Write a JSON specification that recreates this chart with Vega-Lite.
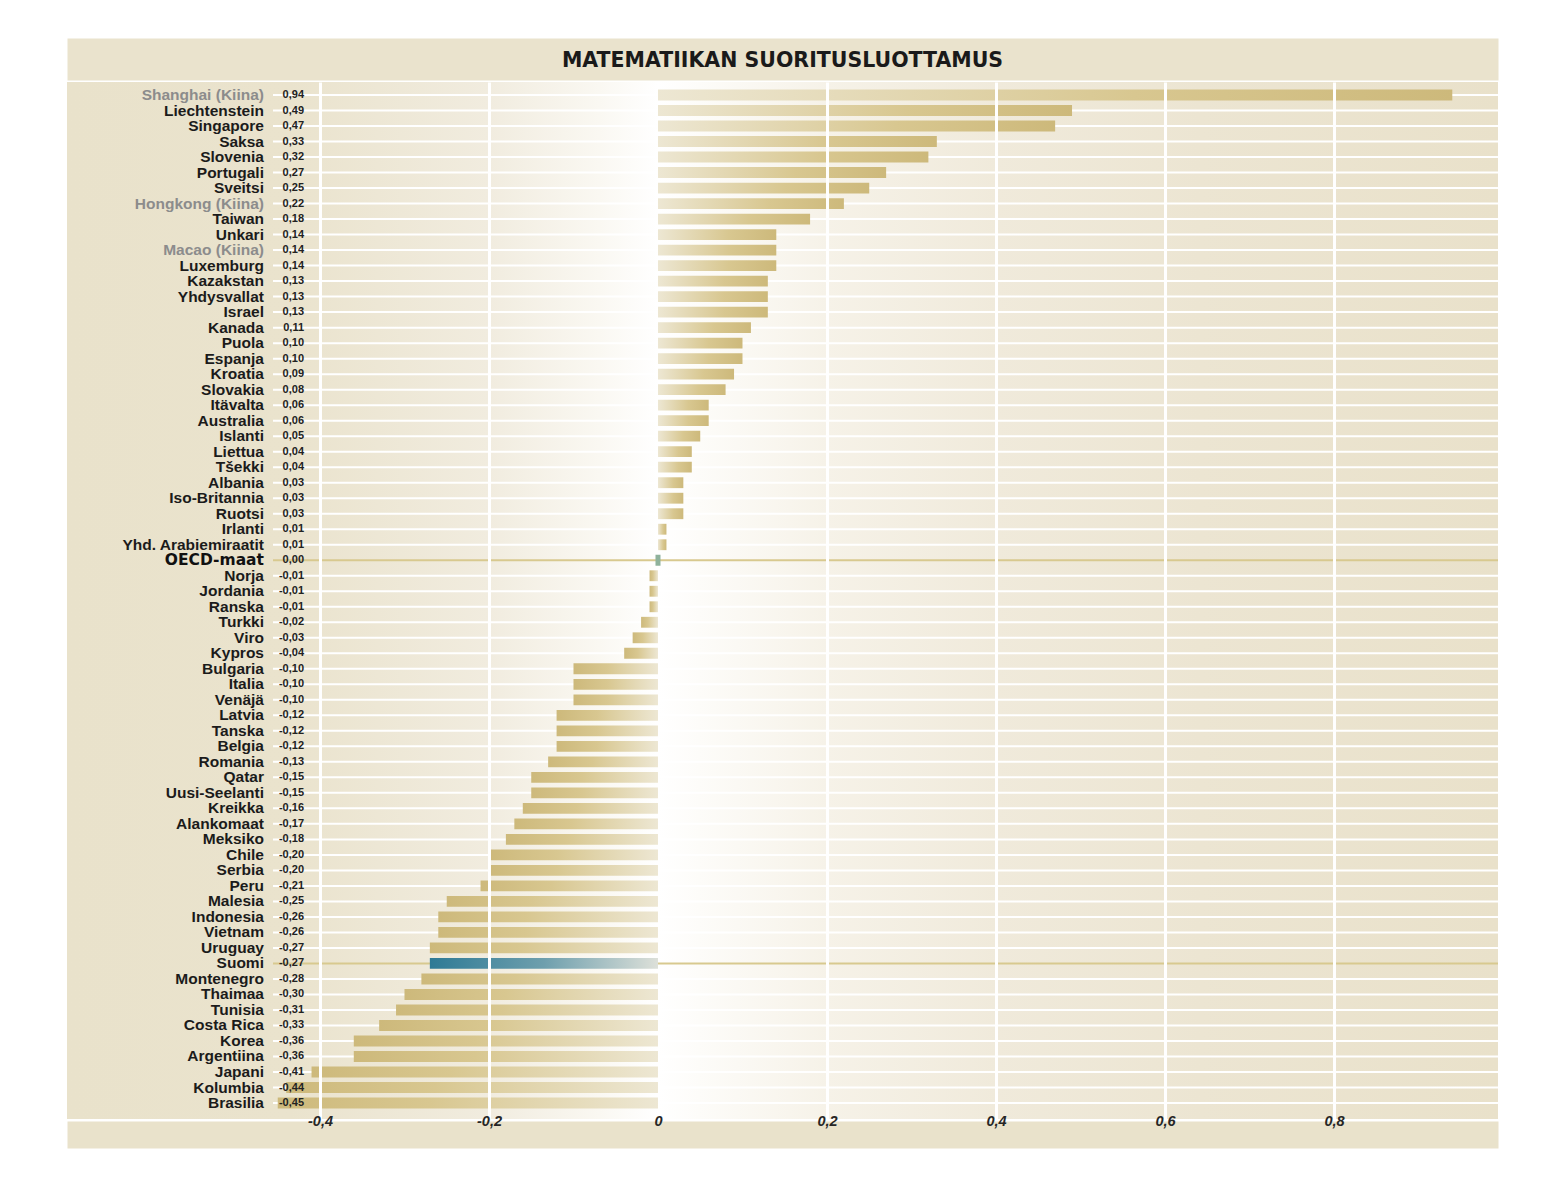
{
  "$schema": "https://vega.github.io/schema/vega-lite/v6.json",
  "width": 1431,
  "height": 1037,
  "autosize": {"type": "none"},
  "padding": {"left": 67, "top": 82, "right": 61, "bottom": 73},
  "background": "white",
  "title": {
    "text": "MATEMATIIKAN SUORITUSLUOTTAMUS",
    "anchor": "middle",
    "frame": "group",
    "font": "DejaVu Sans",
    "fontSize": 20.5,
    "fontWeight": "bold",
    "color": "#1a1a1a",
    "baseline": "middle",
    "offset": -22
  },
  "config": {
    "view": {"stroke": null},
    "locale": {
      "number": {
        "decimal": ",",
        "thousands": "\u00a0",
        "grouping": [3],
        "currency": ["", "\u00a0€"],
        "minus": "-"
      }
    }
  },
  "data": {
    "values": [
      {"maa": "Shanghai (Kiina)", "arvo": 0.94},
      {"maa": "Liechtenstein", "arvo": 0.49},
      {"maa": "Singapore", "arvo": 0.47},
      {"maa": "Saksa", "arvo": 0.33},
      {"maa": "Slovenia", "arvo": 0.32},
      {"maa": "Portugali", "arvo": 0.27},
      {"maa": "Sveitsi", "arvo": 0.25},
      {"maa": "Hongkong (Kiina)", "arvo": 0.22},
      {"maa": "Taiwan", "arvo": 0.18},
      {"maa": "Unkari", "arvo": 0.14},
      {"maa": "Macao (Kiina)", "arvo": 0.14},
      {"maa": "Luxemburg", "arvo": 0.14},
      {"maa": "Kazakstan", "arvo": 0.13},
      {"maa": "Yhdysvallat", "arvo": 0.13},
      {"maa": "Israel", "arvo": 0.13},
      {"maa": "Kanada", "arvo": 0.11},
      {"maa": "Puola", "arvo": 0.10},
      {"maa": "Espanja", "arvo": 0.10},
      {"maa": "Kroatia", "arvo": 0.09},
      {"maa": "Slovakia", "arvo": 0.08},
      {"maa": "Itävalta", "arvo": 0.06},
      {"maa": "Australia", "arvo": 0.06},
      {"maa": "Islanti", "arvo": 0.05},
      {"maa": "Liettua", "arvo": 0.04},
      {"maa": "Tšekki", "arvo": 0.04},
      {"maa": "Albania", "arvo": 0.03},
      {"maa": "Iso-Britannia", "arvo": 0.03},
      {"maa": "Ruotsi", "arvo": 0.03},
      {"maa": "Irlanti", "arvo": 0.01},
      {"maa": "Yhd. Arabiemiraatit", "arvo": 0.01},
      {"maa": "OECD-maat", "arvo": 0.00},
      {"maa": "Norja", "arvo": -0.01},
      {"maa": "Jordania", "arvo": -0.01},
      {"maa": "Ranska", "arvo": -0.01},
      {"maa": "Turkki", "arvo": -0.02},
      {"maa": "Viro", "arvo": -0.03},
      {"maa": "Kypros", "arvo": -0.04},
      {"maa": "Bulgaria", "arvo": -0.10},
      {"maa": "Italia", "arvo": -0.10},
      {"maa": "Venäjä", "arvo": -0.10},
      {"maa": "Latvia", "arvo": -0.12},
      {"maa": "Tanska", "arvo": -0.12},
      {"maa": "Belgia", "arvo": -0.12},
      {"maa": "Romania", "arvo": -0.13},
      {"maa": "Qatar", "arvo": -0.15},
      {"maa": "Uusi-Seelanti", "arvo": -0.15},
      {"maa": "Kreikka", "arvo": -0.16},
      {"maa": "Alankomaat", "arvo": -0.17},
      {"maa": "Meksiko", "arvo": -0.18},
      {"maa": "Chile", "arvo": -0.20},
      {"maa": "Serbia", "arvo": -0.20},
      {"maa": "Peru", "arvo": -0.21},
      {"maa": "Malesia", "arvo": -0.25},
      {"maa": "Indonesia", "arvo": -0.26},
      {"maa": "Vietnam", "arvo": -0.26},
      {"maa": "Uruguay", "arvo": -0.27},
      {"maa": "Suomi", "arvo": -0.27},
      {"maa": "Montenegro", "arvo": -0.28},
      {"maa": "Thaimaa", "arvo": -0.30},
      {"maa": "Tunisia", "arvo": -0.31},
      {"maa": "Costa Rica", "arvo": -0.33},
      {"maa": "Korea", "arvo": -0.36},
      {"maa": "Argentiina", "arvo": -0.36},
      {"maa": "Japani", "arvo": -0.41},
      {"maa": "Kolumbia", "arvo": -0.44},
      {"maa": "Brasilia", "arvo": -0.45}
    ]
  },
  "resolve": {"axis": {"x": "independent"}},
  "layer": [
    {
      "data": {"values": [{}]},
      "mark": {
        "type": "rect",
        "fill": {
          "gradient": "linear",
          "x1": 0, "y1": 0, "x2": 1, "y2": 0,
          "stops": [
            {"offset": 0, "color": "#e9e2cb"},
            {"offset": 0.156, "color": "#eae3cd"},
            {"offset": 0.295, "color": "#f1ecdf"},
            {"offset": 0.372, "color": "#faf8f2"},
            {"offset": 0.413, "color": "#ffffff"},
            {"offset": 0.442, "color": "#fdfcf9"},
            {"offset": 0.531, "color": "#f6f2e8"},
            {"offset": 0.649, "color": "#f0eadb"},
            {"offset": 0.792, "color": "#ece5d2"},
            {"offset": 1, "color": "#e9e1ca"}
          ]
        }
      },
      "encoding": {
        "x": {"datum": -0.6994, "type": "quantitative", "axis": null},
        "x2": {"datum": 0.9941}
      }
    },
    {
      "mark": {"type": "rule", "strokeWidth": 2},
      "encoding": {
        "y": {
          "field": "maa",
          "type": "nominal",
          "sort": null,
          "scale": {"type": "band", "paddingInner": 0.3, "paddingOuter": 0.585, "align": 0.418},
          "axis": null
        },
        "x": {
          "datum": -0.4556,
          "type": "quantitative",
          "axis": {
            "orient": "top",
            "domain": true,
            "domainColor": "#eae3cd",
            "domainWidth": 42,
            "offset": 23,
            "ticks": false,
            "labels": false,
            "grid": false,
            "title": null,
            "zindex": 0
          }
        },
        "x2": {"datum": 0.9941},
        "color": {
          "condition": {"test": "datum.maa === 'OECD-maat' || datum.maa === 'Suomi'", "value": "#d8c98f"},
          "value": "#ffffff"
        }
      }
    },
    {
      "transform": [{"filter": "datum.arvo > 0"}],
      "mark": {
        "type": "bar",
        "fill": {
          "gradient": "linear",
          "x1": 0, "y1": 0, "x2": 1, "y2": 0,
          "stops": [
            {"offset": 0, "color": "#ede7d3"},
            {"offset": 0.6, "color": "#d8c790"},
            {"offset": 1, "color": "#cdb97b"}
          ]
        }
      },
      "encoding": {
        "y": {"field": "maa", "type": "nominal", "sort": null, "axis": null},
        "x": {
          "field": "arvo",
          "type": "quantitative",
          "scale": {"domain": [-0.6994, 0.9941], "nice": false, "zero": false},
          "axis": {
            "orient": "bottom",
            "values": [-0.4, -0.2, 0, 0.2, 0.4, 0.6, 0.8],
            "format": ".1f",
            "labelExpr": "datum.value === 0 ? '0' : datum.label",
            "domain": false,
            "ticks": false,
            "grid": true,
            "gridColor": "#ffffff",
            "gridWidth": 3,
            "gridOpacity": {"condition": {"test": "datum.value === 0", "value": 0}, "value": 1},
            "labelFont": "Liberation Sans",
            "labelFontWeight": "bold",
            "labelFontStyle": "italic",
            "labelFontSize": 14.5,
            "labelColor": "#262626",
            "labelBaseline": "middle",
            "labelPadding": 2,
            "labelFlush": false,
            "labelOverlap": false,
            "title": null,
            "zindex": 1
          }
        },
        "x2": {"datum": 0}
      }
    },
    {
      "transform": [{"filter": "datum.arvo < 0 && datum.maa !== 'Suomi'"}],
      "mark": {
        "type": "bar",
        "fill": {
          "gradient": "linear",
          "x1": 0, "y1": 0, "x2": 1, "y2": 0,
          "stops": [
            {"offset": 0, "color": "#cdb97b"},
            {"offset": 0.4, "color": "#d8c790"},
            {"offset": 1, "color": "#ede7d3"}
          ]
        }
      },
      "encoding": {
        "y": {"field": "maa", "type": "nominal", "sort": null, "axis": null},
        "x": {
          "field": "arvo",
          "type": "quantitative",
          "axis": {
            "orient": "bottom",
            "domain": true,
            "domainColor": "#e9e2cb",
            "domainWidth": 27,
            "offset": 15.5,
            "ticks": false,
            "labels": false,
            "grid": false,
            "title": null,
            "zindex": 0
          }
        },
        "x2": {"datum": 0}
      }
    },
    {
      "transform": [{"filter": "datum.maa === 'Suomi'"}],
      "mark": {
        "type": "bar",
        "fill": {
          "gradient": "linear",
          "x1": 0, "y1": 0, "x2": 1, "y2": 0,
          "stops": [
            {"offset": 0, "color": "#2e7a95"},
            {"offset": 0.5, "color": "#6e9fad"},
            {"offset": 1, "color": "#dde0d9"}
          ]
        }
      },
      "encoding": {
        "y": {"field": "maa", "type": "nominal", "sort": null, "axis": null},
        "x": {"field": "arvo", "type": "quantitative", "axis": null},
        "x2": {"datum": 0}
      }
    },
    {
      "transform": [{"filter": "datum.maa === 'OECD-maat'"}],
      "mark": {"type": "tick", "thickness": 5, "size": 11, "color": "#8fb29c", "opacity": 1},
      "encoding": {
        "y": {"field": "maa", "type": "nominal", "sort": null, "axis": null},
        "x": {"field": "arvo", "type": "quantitative", "axis": null}
      }
    },
    {
      "mark": {
        "type": "text",
        "align": "right",
        "baseline": "middle",
        "font": "Liberation Sans",
        "fontSize": 11,
        "fontWeight": "bold",
        "color": "#222222"
      },
      "encoding": {
        "y": {"field": "maa", "type": "nominal", "sort": null, "axis": null},
        "x": {"datum": -0.4189, "type": "quantitative", "axis": null},
        "text": {"field": "arvo", "type": "quantitative", "format": ".2f"}
      }
    },
    {
      "transform": [{"filter": "datum.maa !== 'OECD-maat'"}],
      "mark": {
        "type": "text",
        "align": "right",
        "baseline": "middle",
        "font": "Liberation Sans",
        "fontSize": 15.5,
        "fontWeight": "bold"
      },
      "encoding": {
        "y": {"field": "maa", "type": "nominal", "sort": null, "axis": null},
        "x": {"datum": -0.4663, "type": "quantitative", "axis": null},
        "text": {"field": "maa", "type": "nominal"},
        "color": {
          "condition": {"test": "indexof(datum.maa, '(Kiina)') >= 0", "value": "#8c8c8c"},
          "value": "#1b1b1b"
        }
      }
    },
    {
      "transform": [{"filter": "datum.maa === 'OECD-maat'"}],
      "mark": {
        "type": "text",
        "align": "right",
        "baseline": "middle",
        "font": "DejaVu Sans",
        "fontSize": 15.5,
        "fontWeight": "bold",
        "color": "#111111"
      },
      "encoding": {
        "y": {"field": "maa", "type": "nominal", "sort": null, "axis": null},
        "x": {"datum": -0.4663, "type": "quantitative", "axis": null},
        "text": {"field": "maa", "type": "nominal"}
      }
    }
  ]
}
